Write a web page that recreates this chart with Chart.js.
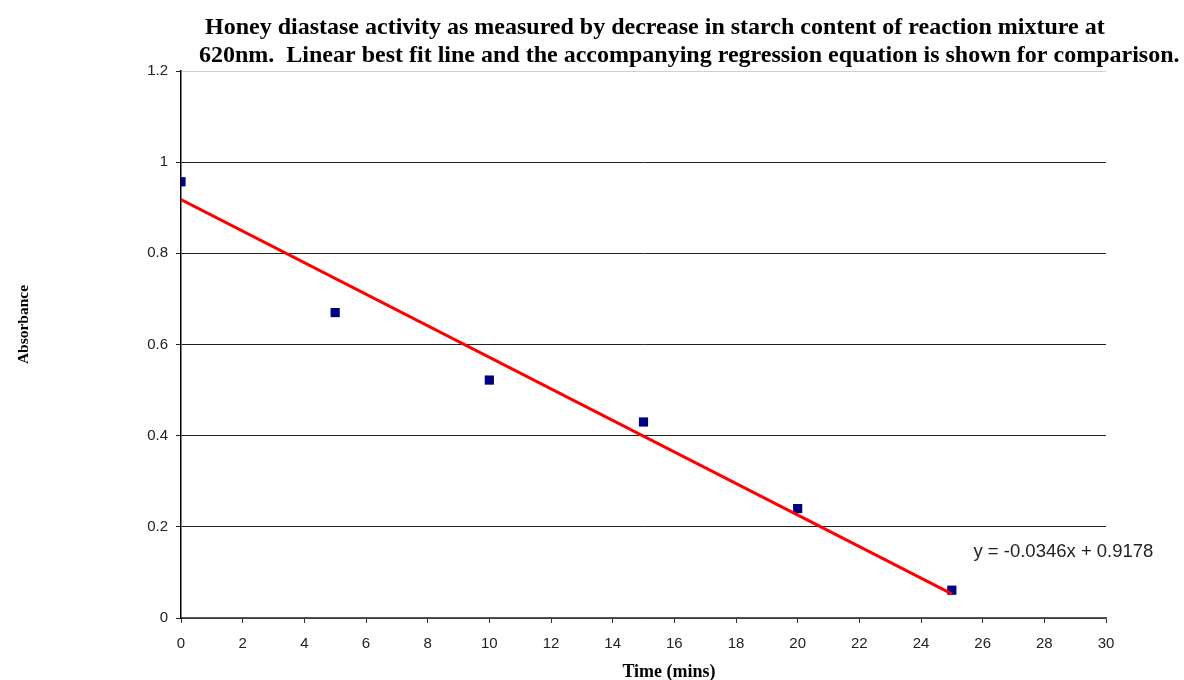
<!DOCTYPE html>
<html>
<head>
<meta charset="utf-8">
<script src="https://cdn.jsdelivr.net/npm/chart.js@4.4.1/dist/chart.umd.min.js"></script>
<style>
  html, body { margin: 0; padding: 0; background: #fff; }
  #wrap { width: 1184px; height: 680px; position: relative; }
</style>
</head>
<body>
<div id="wrap"><canvas id="diastase-chart"></canvas></div>
<script>
// readings taken every 5 minutes
const timeMins = [0, 5, 10, 15, 20, 25];
const absorbance = [0.957, 0.670, 0.522, 0.430, 0.240, 0.061];

// best fit line as drawn (ends of the red line)
const trendX = [0, 25];
const trendY = [0.918, 0.053];
const trendLabel = 'y = -0.0346x + 0.9178';

const yTickLabels = ['0', '0.2', '0.4', '0.6', '0.8', '1', '1.2'];

const titleLines = [
  'Honey diastase activity as measured by decrease in starch content of reaction mixture at',
  '620nm.  Linear best fit line and the accompanying regression equation is shown for comparison.'
];
const xTitle = 'Time (mins)';
const yTitle = 'Absorbance';

const toPoints = (xs, ys) => xs.map((x, i) => ({ x: x, y: ys[i] }));

// titles and the equation label, placed like the original sheet
const textPlugin = {
  id: 'sheetText',
  afterDraw: (chart) => {
    const ctx = chart.ctx;
    const xs = chart.scales.x;
    const ys = chart.scales.y;
    ctx.save();
    ctx.fillStyle = '#000';
    ctx.textBaseline = 'alphabetic';
    ctx.textAlign = 'left';
    ctx.font = 'bold 24px "Liberation Serif", "Times New Roman", serif';
    ctx.fillText(titleLines[0], 205, 34);
    ctx.fillText(titleLines[1], 199, 62);

    ctx.textAlign = 'center';
    ctx.font = 'bold 18px "Liberation Serif", "Times New Roman", serif';
    ctx.fillText(xTitle, 669, 677);
    ctx.font = 'bold 15.5px "Liberation Serif", "Times New Roman", serif';
    ctx.translate(28, 324.5);
    ctx.rotate(-Math.PI / 2);
    ctx.fillText(yTitle, 0, 0);
    ctx.restore();

    ctx.save();
    ctx.fillStyle = '#222';
    ctx.font = '18.5px "Liberation Sans", Arial, sans-serif';
    ctx.textBaseline = 'middle';
    ctx.textAlign = 'left';
    ctx.fillText(trendLabel, xs.getPixelForValue(25.7), ys.getPixelForValue(0.145));
    ctx.restore();
  }
};

const renderChart = () => {
  const ctx = document.getElementById('diastase-chart').getContext('2d');
  new Chart(ctx, {
    type: 'scatter',
    data: {
      datasets: [
        {
          label: 'Linear (Absorbance)',
          data: toPoints(trendX, trendY),
          showLine: true,
          borderColor: '#ff0000',
          borderWidth: 3,
          pointRadius: 0,
          order: 0
        },
        {
          label: 'Absorbance',
          data: toPoints(timeMins, absorbance),
          pointStyle: 'rect',
          pointRadius: 6.5,
          backgroundColor: '#000080',
          borderColor: '#000080',
          borderWidth: 0,
          order: 1
        }
      ]
    },
    options: {
      responsive: true,
      maintainAspectRatio: false,
      animation: false,
      layout: {
        padding: { left: 0, right: 78, top: 71, bottom: 0 }
      },
      scales: {
        x: {
          type: 'linear',
          min: 0,
          max: 30,
          ticks: {
            stepSize: 2,
            color: '#222',
            padding: 12,
            font: { family: '"Liberation Sans", Arial, sans-serif', size: 15 }
          },
          grid: {
            drawOnChartArea: false,
            drawTicks: true,
            tickLength: 5,
            tickColor: '#333'
          },
          border: { color: '#555', width: 1.5 },
          afterFit: (scale) => { scale.height = 62; }
        },
        y: {
          min: 0,
          max: 1.2,
          ticks: {
            stepSize: 0.2,
            color: '#222',
            padding: 8,
            font: { family: '"Liberation Sans", Arial, sans-serif', size: 15 },
            callback: (value, index) => yTickLabels[index]
          },
          grid: {
            color: (c) => (c.tick && c.tick.value >= 1.2 ? '#d0d0d0' : '#222'),
            tickColor: '#222',
            tickLength: 5,
            lineWidth: 1
          },
          border: { color: '#000', width: 1.5 },
          afterFit: (scale) => { scale.width = 181; }
        }
      },
      plugins: {
        legend: { display: false },
        title: { display: false },
        tooltip: { enabled: false }
      }
    },
    plugins: [textPlugin]
  });
};

renderChart();
</script>
</body>
</html>
